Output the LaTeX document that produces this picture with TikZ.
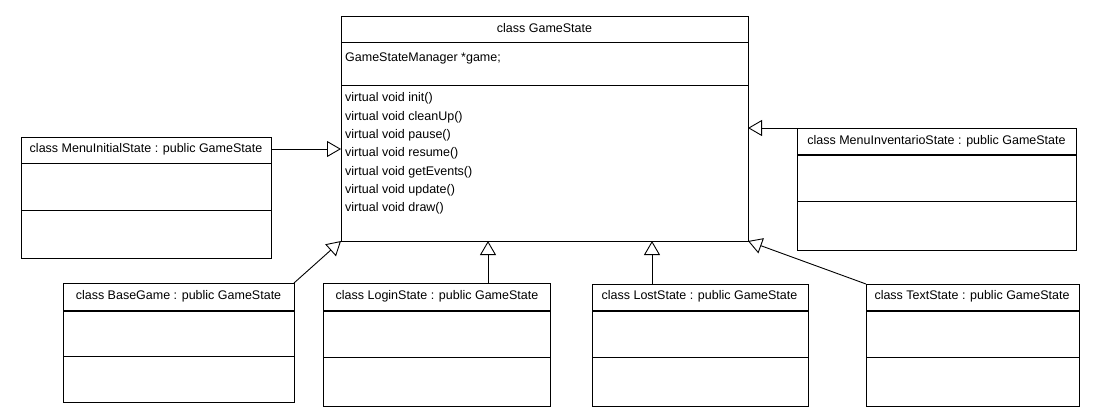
\documentclass[tikz,border=0pt]{standalone}
\usepackage{fontspec}
\setmainfont{Liberation Sans}
\usetikzlibrary{arrows.meta}
\begin{document}
\begin{tikzpicture}[x=1pt,y=-1pt,
  box/.style={draw, line width=1pt, anchor=north west, inner sep=0pt, outer sep=0pt},
  lbl/.style={font=\fontsize{12.5}{15}\selectfont, inner sep=0pt, anchor=base},
  lft/.style={font=\fontsize{12.5}{15}\selectfont, inner sep=0pt, anchor=base west},
  sep/.style={line width=1pt},
  thicksep/.style={line width=2pt},
  inh/.style={line width=0.9pt, -{Triangle[open,length=14pt,width=16pt,line width=0.9pt]}}
]
\useasboundingbox[fill=white] (0,0) rectangle (1114,416);

% GameState
\node[box, minimum width=407pt, minimum height=225pt] (gs) at (341,16) {};
\draw[sep] (341,42) -- (748,42);
\draw[sep] (341,85) -- (748,85);
\node[lbl] (gst) at (544.5,32) {class GameState};
\node[lft] (gsa) at (345,61.5) {GameStateManager *game;};
\node[lft] (m1) at (345,101.7) {virtual void init()};
\node[lft] (m2) at (345,120) {virtual void cleanUp()};
\node[lft] (m3) at (345,138.3) {virtual void pause()};
\node[lft] (m4) at (345,156.6) {virtual void resume()};
\node[lft] (m5) at (345,175) {virtual void getEvents()};
\node[lft] (m6) at (345,193.2) {virtual void update()};
\node[lft] (m7) at (345,211.5) {virtual void draw()};

% MenuInitialState
\node[box, minimum width=250pt, minimum height=121pt] (mis) at (21,137) {};
\draw[sep] (21,163) -- (271,163);
\draw[sep] (21,210) -- (271,210);
\node[lbl] (mist) at (146,152) {class MenuInitialState : public GameState};

% MenuInventarioState
\node[box, minimum width=279pt, minimum height=122pt] (miv) at (797,128) {};
\draw[thicksep] (797,155) -- (1076,155);
\draw[sep] (797,201) -- (1076,201);
\node[lbl] (mivt) at (936.5,144) {class MenuInventarioState : public GameState};

% BaseGame
\node[box, minimum width=231pt, minimum height=119pt] (bg) at (63,283) {};
\draw[thicksep] (63,310.5) -- (294,310.5);
\draw[sep] (63,356) -- (294,356);
\node[lbl] (bgt) at (178.5,299.3) {class BaseGame : public GameState};

% LoginState
\node[box, minimum width=227pt, minimum height=123pt] (ls) at (323,283) {};
\draw[thicksep] (323,310.5) -- (550,310.5);
\draw[sep] (323,357) -- (550,357);
\node[lbl] (lst) at (437,299.3) {class LoginState : public GameState};

% LostState
\node[box, minimum width=216pt, minimum height=122pt] (lost) at (592,284) {};
\draw[thicksep] (592,310.5) -- (808,310.5);
\draw[sep] (592,357.5) -- (808,357.5);
\node[lbl] (lostt) at (699.5,299.3) {class LostState : public GameState};

% TextState
\node[box, minimum width=213pt, minimum height=122pt] (ts) at (866,284) {};
\draw[thicksep] (866,310.5) -- (1079,310.5);
\draw[sep] (866,357.5) -- (1079,357.5);
\node[lbl] (tst) at (972,299.3) {class TextState : public GameState};

% connector anchor points
\coordinate (misC) at (271,149);
\coordinate (lsC) at (488,283);
\coordinate (lostC) at (652,284);

% inheritance connectors
\draw[inh] (misC) -- (misC -| gs.west);
\draw[inh] (miv.north west) -- (miv.north west -| gs.east);
\draw[inh] (bg.north east) -- (gs.south west);
\draw[inh] (lsC) -- (lsC |- gs.south);
\draw[inh] (lostC) -- (lostC |- gs.south);
\draw[inh] (ts.north west) -- (gs.south east);
\end{tikzpicture}
\end{document}
